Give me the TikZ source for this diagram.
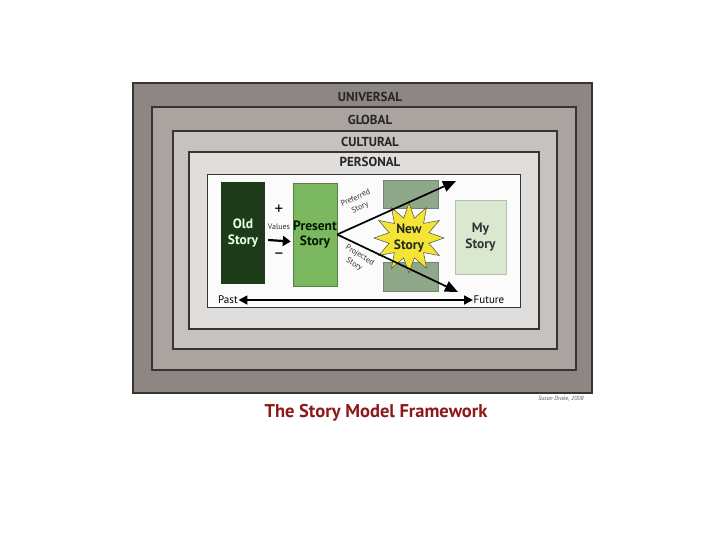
\documentclass[tikz,border=0pt]{standalone}
\usepackage{fontspec}
\setmainfont{PT Sans}
\usetikzlibrary{positioning,shapes.geometric,arrows.meta}
\definecolor{univ}{RGB}{141,134,130}
\definecolor{glob}{RGB}{170,163,159}
\definecolor{cult}{RGB}{198,194,191}
\definecolor{pers}{RGB}{224,222,221}
\definecolor{bandline}{RGB}{55,52,50}
\definecolor{oldgreen}{RGB}{29,59,24}
\definecolor{presgreen}{RGB}{124,184,95}
\definecolor{graygreen}{RGB}{143,168,138}
\definecolor{mygreen}{RGB}{217,232,207}
\definecolor{staryellow}{RGB}{244,228,51}
\definecolor{titlered}{RGB}{140,26,26}
\tikzset{
        band/.style={draw=bandline, line width=1.2pt, inner sep=0pt}, % the nested frames
        level/.style={font=\bfseries\fontsize{13}{14}\selectfont, text=black!85},
        story/.style={inner sep=0pt, align=center, font=\bfseries\fontsize{13.5}{15.5}\selectfont},
        bigarrow/.style={-{Triangle[length=13pt,width=11pt]}, line width=1.7pt},
        note/.style={font=\fontsize{8}{10.5}\selectfont, align=center, text=black!80, inner sep=0.5pt},
}
\begin{document}
\begin{tikzpicture}[x=1pt,y=-1pt]
\useasboundingbox[fill=white] (0,0) rectangle (728,546);
\foreach \n/\cx/\cy/\w/\h/\c in {universal/362.5/238/459/310/univ, global/364/238.5/424/263/glob, cultural/365/240/384/218/cult, personal/364/240.5/350/177/pers}
  \node[band, fill=\c, minimum width=\w, minimum height=\h] (\n) at (\cx,\cy) {};
\foreach \n/\y/\t in {universal/97/UNIVERSAL, global/120/GLOBAL, cultural/142/CULTURAL, personal/162/PERSONAL}
  \node[level] (\n-t) at (370,\y) {\t};

\node[band, fill=white!97!gray, line width=1pt, minimum width=313, minimum height=133] (inner) at (363.5,240.5) {};

\node[story, fill=oldgreen, text=white!92!green, minimum width=44, minimum height=102] (old) at (243,233) {Old\\Story};
\node[story, fill=presgreen, draw=presgreen!70!black, line width=0.4pt, text=black!90!green, minimum width=44, minimum height=103] (present) at (315,234.5) {Present\\Story};
\node[fill=graygreen, draw=graygreen!80!black, line width=0.4pt, minimum width=55, minimum height=28] (upper) at (410.5,194) {};
\node[fill=graygreen, draw=graygreen!80!black, line width=0.4pt, minimum width=55, minimum height=29] (lower) at (410.5,276.5) {};
\node[story, fill=mygreen, draw=mygreen!60!gray, line width=0.6pt, text=black!80, minimum width=51, minimum height=74] (my) at (480.5,237) {My\\Story};
\node[star, star points=12, star point ratio=1.7, minimum size=70, fill=staryellow, draw=black!70, line width=0.5pt, inner sep=0pt] (newstar) at (409,238) {};
\node[story, text=black!85] (new) at (409,238) {New\\Story};

\coordinate (pref-end) at (456,181);
\coordinate (proj-end) at (458,292);
\draw[bigarrow] (present.east) -- (pref-end);
\draw[bigarrow] (present.east) -- (proj-end);
\node[note, rotate=25] (preferred) at (358,203) {Preferred\\Story};
\node[note, rotate=-32] (projected) at (357,260) {Projected\\Story};

\draw[-{Triangle[length=8pt,width=10pt]}, line width=2.2pt] ([shift={(3,7)}]old.east) -- ([shift={(-2,7)}]present.west);
\node[font=\fontsize{17}{17}\selectfont] (plus) at (279,210) {+};
\node[note] (values) at (279,227) {Values};
\node[font=\fontsize{17}{17}\selectfont] (minus) at (279,256) {--};

\node[font=\fontsize{11}{12}\selectfont, inner sep=0.5pt] (past) at (228,300) {Past};
\node[font=\fontsize{11}{12}\selectfont, inner sep=0.5pt] (future) at (489,300) {Future};
\draw[{Triangle[length=9pt,width=9pt]}-{Triangle[length=9pt,width=9pt]}, line width=1.7pt] (past.east) -- (future.west);

\node[font=\itshape\fontsize{6}{7}\selectfont, text=black!65] (author) at (561,399) {Susan Drake, 2008};
\node[font=\bfseries\fontsize{18.5}{22}\selectfont, text=titlered] (title) at (376,413) {The Story Model Framework};
\end{tikzpicture}
\end{document}
